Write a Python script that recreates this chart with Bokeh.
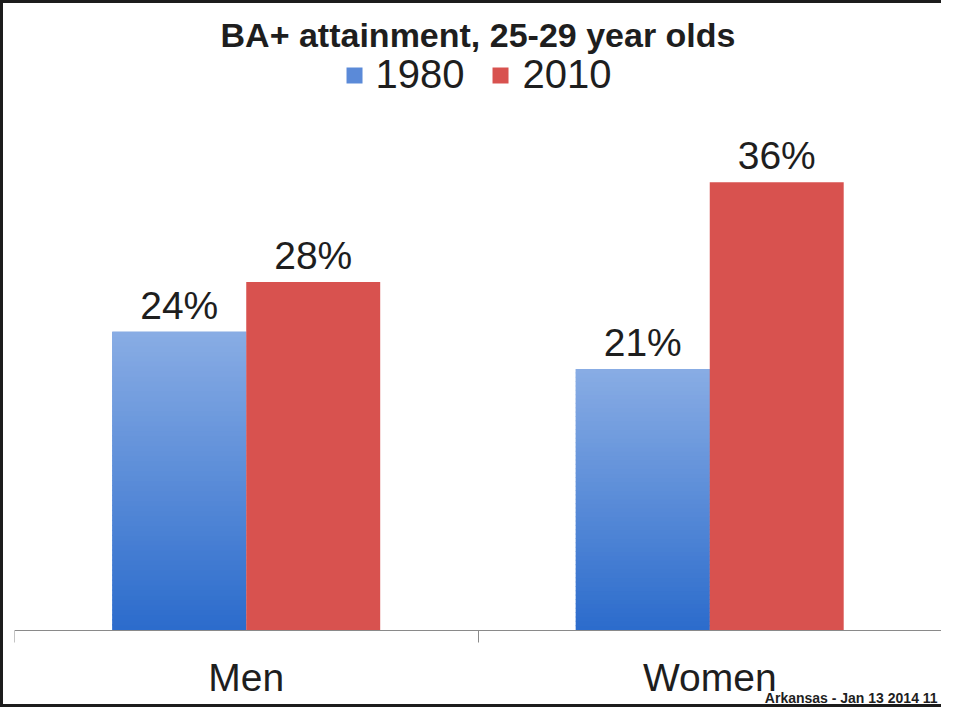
from bokeh.plotting import figure
from bokeh.models import (ColumnDataSource, LabelSet, Legend, LegendItem, FixedTicker,
                          Range1d, Label)
from bokeh.core.properties import value
from bokeh.transform import dodge
from bokeh.embed import file_html
from bokeh.resources import INLINE

# ---- data ----
categories = ["Men", "Women"]
years = ["1980", "2010"]
values_1980 = [24, 21]
values_2010 = [28, 36]
title_text = "BA+ attainment, 25-29 year olds"
footer_text = "Arkansas - Jan 13 2014  11"

# ---- styles ----
FONT = "Liberation Sans"
TXT = "#1e1e1e"
BLUE_TOP = (0x88, 0xac, 0xe4)
BLUE_BOT = (0x2c, 0x6c, 0xcc)
BLUE_MID = "#5b8ad8"
RED = "#d8524f"
BAR_W = 0.289
OFF = BAR_W / 2

W, H = 941, 707
MB_TOP, MB_BOT = 49, 6
AXIS_Y = 627          # canvas pixel row of the baseline
PX = 12.45            # pixels per percentage point
Y_END = (AXIS_Y - MB_TOP) / PX
Y_START = -((H - MB_BOT) - AXIS_Y) / PX
centers = [i + 0.5 for i in range(len(categories))]

p = figure(width=W, height=H, output_backend="svg", toolbar_location=None,
           x_range=Range1d(0, len(categories)), y_range=Range1d(Y_START, Y_END),
           y_axis_location=None, min_border_left=11, min_border_right=3,
           min_border_top=MB_TOP, min_border_bottom=MB_BOT)
p.grid.visible = False
p.outline_line_color = None
p.background_fill_color = "white"
p.border_fill_color = "white"
p.styles = {"border-top": "3px solid #1c1c1c", "border-left": "3px solid #1c1c1c",
            "border-bottom": "3px solid #1c1c1c"}

# title
p.title.text = title_text
p.title.align = "center"
p.title.text_font = FONT
p.title.text_font_style = "bold"
p.title.text_font_size = "34px"
p.title.text_color = TXT
p.title.standoff = -3

src = ColumnDataSource(dict(x=centers, v80=values_1980, v10=values_2010,
                            t80=[f"{v}%" for v in values_1980],
                            t10=[f"{v}%" for v in values_2010]))

# 1980 bars: base + gradient strips computed from the values
r80 = p.vbar(x=dodge("x", -OFF), top="v80", width=BAR_W, source=src,
             fill_color=BLUE_MID, line_color=None)
N = 60
gx, gb, gt, gc = [], [], [], []
for c, v in zip(centers, values_1980):
    for k in range(N):
        f = k / (N - 1)  # 0 bottom -> 1 top
        col = tuple(int(round(BLUE_BOT[j] + (BLUE_TOP[j] - BLUE_BOT[j]) * f)) for j in range(3))
        gx.append(c - OFF)
        gb.append(v * k / N)
        gt.append(min(v, v * (k + 1) / N + v * 0.004))
        gc.append("#%02x%02x%02x" % col)
p.vbar(x=gx, bottom=gb, top=gt, width=BAR_W, fill_color=gc, line_color=None)

r10 = p.vbar(x=dodge("x", OFF), top="v10", width=BAR_W, source=src,
             fill_color=RED, line_color=None)

for xcol, ycol, tcol in ((-OFF, "v80", "t80"), (OFF, "v10", "t10")):
    p.add_layout(LabelSet(x=dodge("x", xcol), y=ycol, text=tcol, source=src,
                          text_align="center", text_baseline="alphabetic", y_offset=13,
                          text_font=value(FONT), text_font_size=value("39px"),
                          text_color=TXT))

# x axis, pinned at the zero line
ax = p.xaxis[0]
ax.fixed_location = 0
ax.ticker = FixedTicker(ticks=centers, minor_ticks=list(range(len(categories) + 1)))
ax.major_label_overrides = {c: n for c, n in zip(centers, categories)}
ax.major_tick_out = 0
ax.major_tick_in = 0
ax.minor_tick_out = 12
ax.minor_tick_in = 0
ax.minor_tick_line_color = "#8a8a8a"
ax.axis_line_color = "#8a8a8a"
ax.major_label_text_font = FONT
ax.major_label_text_font_size = "39px"
ax.major_label_text_color = TXT
ax.major_label_standoff = 13

# legend
legend = Legend(items=[LegendItem(label=years[0], renderers=[r80]),
                       LegendItem(label=years[1], renderers=[r10])],
                orientation="horizontal", location="top_center",
                glyph_width=20, glyph_height=20, label_standoff=12, spacing=26,
                label_text_font=FONT, label_text_font_size="40px", label_text_color=TXT,
                border_line_alpha=0, background_fill_alpha=0, padding=0, margin=0)
p.add_layout(legend)

# footer (bottom-right corner, inside the frame)
p.add_layout(Label(x=len(categories), y=Y_START + 7 / PX, text=footer_text,
                   text_align="right", text_baseline="alphabetic", text_font=FONT,
                   text_font_style="bold", text_font_size="14px", text_color=TXT))

open("out.html", "w").write(file_html(p, INLINE))
